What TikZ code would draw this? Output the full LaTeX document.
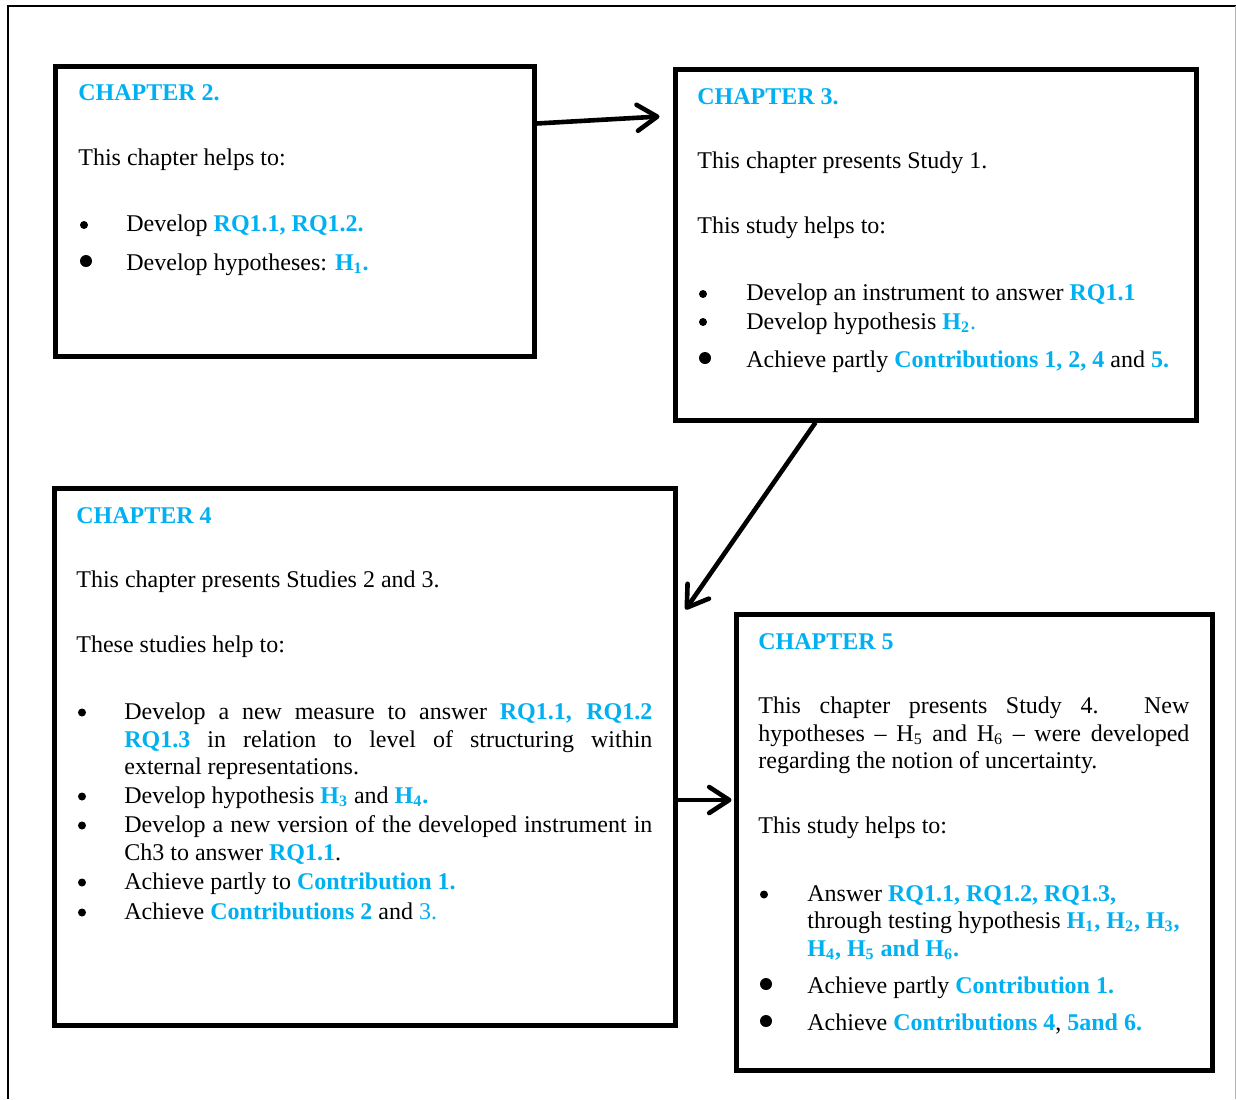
\documentclass[tikz,border=0pt]{standalone}
\usepackage{fontspec}
\setmainfont{Liberation Serif}
\usetikzlibrary{arrows.meta,calc}
\definecolor{hl}{RGB}{0,176,240}
\newcommand\hb[1]{\textcolor{hl}{\bfseries #1}}
\newcommand\hn[1]{\textcolor{hl}{#1}}
\newcommand\jl[2]{\makebox[#1][s]{#2}}
\newcommand\Hx[1]{H\textsubscript{#1}}
\begin{document}
\begin{tikzpicture}[x=0.5pt,y=-0.5pt,
  chapbox/.style={draw, line width=2.5pt, rectangle, inner sep=0pt},
  txt/.style={anchor=base west, inner sep=0pt, font=\fontsize{12}{13.8}\selectfont},
  head/.style={anchor=base west, inner sep=0pt, text=hl, font=\fontsize{12}{13.8}\selectfont\bfseries},
  dot/.style={circle, fill, draw=none, inner sep=0pt, minimum size=4pt},
  bigdot/.style={circle, fill, draw=none, inner sep=0pt, minimum size=6pt},
  link/.style={line width=2.3pt, -{Straight Barb[length=10pt,width=13pt,round]}}]
\useasboundingbox (0,0) rectangle (1236,1099);

% page frame
\draw[line width=1pt] (8,1099) -- (8,6) -- (1236,6);
\draw[gray!60, line width=0.5pt] (1235,6) -- (1235,1099);

% chapter boxes
\node[chapbox, minimum width=239.25pt, minimum height=145pt] (ch2) at (294.75,211) {};
\node[chapbox, minimum width=260.75pt, minimum height=175.25pt] (ch3) at (935.75,244.75) {};
\node[chapbox, minimum width=310.25pt, minimum height=268.5pt] (ch4) at (364.75,756.5) {};
\node[chapbox, minimum width=238.25pt, minimum height=228pt] (ch5) at (974.25,842.5) {};

% connectors
\draw[link] ($(ch2.north east)+(0,60)$) -- ($(ch3.north west)+(-13,49.5)$);
\draw[link] ($(ch3.south west)+(143,0)$) -- ($(ch4.north east)+(8,124)$);
\draw[link] ($(ch4.east)+(0,43.5)$) -- ($(ch5.west)+(-2,-42.5)$);

% chapter 2
\node[head] (c2h) at (78,100) {CHAPTER 2.};
\node[txt] (c2a) at (78,165) {This chapter helps to:};
\node[dot] (c2d1) at (84,225) {};
\node[txt] (c2b1) at (126,231) {Develop \hb{RQ1.1, RQ1.2.}};
\node[bigdot] (c2d2) at (86,261) {};
\node[txt] (c2b2) at (126,270) {Develop hypotheses: \hb{\Hx{1}.}};

% chapter 3
\node[head] (c3h) at (697,104) {CHAPTER 3.};
\node[txt] (c3a) at (697,168) {This chapter presents Study 1.};
\node[txt] (c3b) at (697,233) {This study helps to:};
\node[dot] (c3d1) at (703,294) {};
\node[txt] (c3b1) at (746,300) {Develop an instrument to answer \hb{RQ1.1}};
\node[dot] (c3d2) at (703,322) {};
\node[txt] (c3b2) at (746,329) {Develop hypothesis \hb{\Hx{2}}\hn{.}};
\node[bigdot] (c3d3) at (705,358) {};
\node[txt] (c3b3) at (746,367) {Achieve partly \hb{Contributions 1, 2, 4} and \hb{5.}};

% chapter 4
\node[head] (c4h) at (76,523) {CHAPTER 4};
\node[txt] (c4a) at (76,587) {This chapter presents Studies 2 and 3.};
\node[txt] (c4b) at (76,652) {These studies help to:};
\node[dot] (c4d1) at (82,712.5) {};
\node[txt] (c4b1a) at (124,719) {\jl{264pt}{Develop a new measure to answer \hb{RQ1.1, RQ1.2}}};
\node[txt] (c4b1b) at (124,747) {\jl{264pt}{\hb{RQ1.3} in relation to level of structuring within}};
\node[txt] (c4b1c) at (124,774) {external representations.};
\node[dot] (c4d2) at (82,796.5) {};
\node[txt] (c4b2) at (124,803) {Develop hypothesis \hb{\Hx{3}} and \hb{\Hx{4}.}};
\node[dot] (c4d3) at (82,825.5) {};
\node[txt] (c4b3a) at (124,832) {\jl{264pt}{Develop a new version of the developed instrument in}};
\node[txt] (c4b3b) at (124,860) {Ch3 to answer \hb{RQ1.1}.};
\node[dot] (c4d4) at (82,882.5) {};
\node[txt] (c4b4) at (124,889) {Achieve partly to \hb{Contribution 1.}};
\node[dot] (c4d5) at (82,912.5) {};
\node[txt] (c4b5) at (124,919) {Achieve \hb{Contributions 2} and \hn{3.}};

% chapter 5
\node[head] (c5h) at (758,649) {CHAPTER 5};
\node[txt] (c5a1) at (758,713) {\jl{215.5pt}{This chapter presents Study 4. New}};
\node[txt] (c5a2) at (758,741) {\jl{215.5pt}{hypotheses -- \Hx{5} and \Hx{6} -- were developed}};
\node[txt] (c5a3) at (758,768) {regarding the notion of uncertainty.};
\node[txt] (c5b) at (758,833) {This study helps to:};
\node[dot] (c5d1) at (764,894.5) {};
\node[txt] (c5b1a) at (807,901) {Answer \hb{RQ1.1, RQ1.2, RQ1.3,}};
\node[txt] (c5b1b) at (807,928) {through testing hypothesis \hb{\Hx{1}, \Hx{2}, \Hx{3},}};
\node[txt] (c5b1c) at (807,956) {\hb{\Hx{4}, \Hx{5} and \Hx{6}.}};
\node[bigdot] (c5d2) at (766,984) {};
\node[txt] (c5b2) at (807,993) {Achieve partly \hb{Contribution 1.}};
\node[bigdot] (c5d3) at (766,1021) {};
\node[txt] (c5b3) at (807,1030) {Achieve \hb{Contributions 4}, \hb{5and 6.}};
\end{tikzpicture}
\end{document}
